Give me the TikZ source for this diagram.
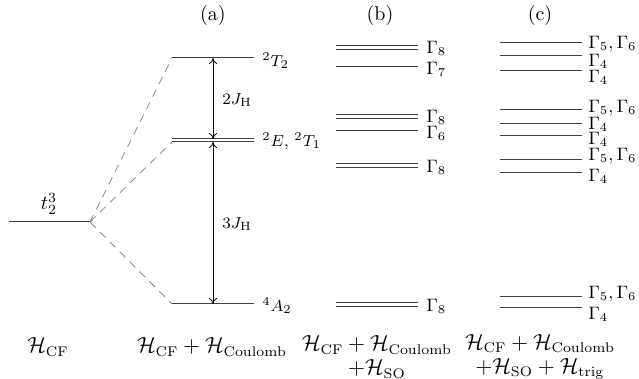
\documentclass[tikz,border=0pt]{standalone}
\usetikzlibrary{arrows.meta}
\begin{document}
\begin{tikzpicture}[x=0.5pt,y=-0.5pt,
  lvl/.style={draw=black!75, line width=0.5pt},
  conn/.style={draw=black!45, dashed, dash pattern=on 4pt off 3pt, line width=0.4pt},
  gap/.style={draw=black, line width=0.4pt, {To[length=3pt,width=4pt]}-{To[length=3pt,width=4pt]}},
  lab/.style={anchor=west, inner sep=0pt, font=\footnotesize},
  glab/.style={anchor=west, inner sep=0pt, font=\small},
  ttl/.style={inner sep=0pt},
  ham/.style={inner sep=0pt, align=center, font=\fontsize{10.5}{12}\selectfont}]
\useasboundingbox (0,0) rectangle (639,379);
% titles
\node[ttl] (ta) at (213,16) {(a)};
\node[ttl] (tb) at (380,16) {(b)};
\node[ttl] (tc) at (540,16) {(c)};
% t2^3
\coordinate (t0) at (9,222);
\coordinate (t1) at (90,222);
\draw[lvl] (t0) -- (t1);
\node[ttl] (tlab) at (49,204) {$t_2^3$};
% (a) levels
\coordinate (a1l) at (172,58);  \coordinate (a1r) at (254,58);
\coordinate (a2l) at (172,139); \coordinate (a2r) at (254,139);
\coordinate (a3l) at (172,142); \coordinate (a3r) at (254,142);
\coordinate (a4l) at (172,304); \coordinate (a4r) at (254,304);
\draw[lvl] (a1l) -- (a1r);
\draw[lvl] (a2l) -- (a2r);
\draw[lvl] (a3l) -- (a3r);
\draw[lvl] (a4l) -- (a4r);
\draw[conn] (t1) -- (a1l);
\draw[conn] (t1) -- (a3l);
\draw[conn] (t1) -- (a4l);
\node[lab] (la1) at (262,61) {$^2T_2$};
\node[lab] (la2) at (262,141) {$^2E$, $^2T_1$};
\node[lab] (la4) at (262,306) {$^4A_2$};
% gaps
\coordinate (g1) at (213,58);
\coordinate (g2) at (213,139);
\coordinate (g3) at (213,142);
\coordinate (g4) at (213,304);
\draw[gap] (g1) -- (g2);
\draw[gap] (g3) -- (g4);
\node[lab] (j2) at (222,100) {$2J_{\mathrm{H}}$};
\node[lab] (j3) at (222,224) {$3J_{\mathrm{H}}$};
% (b) levels
\foreach \y in {46,50,67,115,119,131,164,168,303,307}
  \draw[lvl] (336,\y) -- (418,\y);
\node[glab] (b1) at (426,48) {$\Gamma_8$};
\node[glab] (b2) at (426,69) {$\Gamma_7$};
\node[glab] (b3) at (426,117) {$\Gamma_8$};
\node[glab] (b4) at (426,133) {$\Gamma_6$};
\node[glab] (b5) at (426,167) {$\Gamma_8$};
\node[glab] (b6) at (426,306) {$\Gamma_8$};
% (c) levels
\foreach \y in {43,56,71,110,124,136,160,173,297,308}
  \draw[lvl] (500,\y) -- (582,\y);
\node[glab] (c1) at (588,44) {$\Gamma_5,\Gamma_6$};
\node[glab] (c2) at (588,61) {$\Gamma_4$};
\node[glab] (c3) at (588,77) {$\Gamma_4$};
\node[glab] (c4) at (588,108) {$\Gamma_5,\Gamma_6$};
\node[glab] (c5) at (588,124) {$\Gamma_4$};
\node[glab] (c6) at (588,139) {$\Gamma_4$};
\node[glab] (c7) at (588,156) {$\Gamma_5,\Gamma_6$};
\node[glab] (c8) at (588,176) {$\Gamma_4$};
\node[glab] (c9) at (588,294) {$\Gamma_5,\Gamma_6$};
\node[glab] (c10) at (588,314) {$\Gamma_4$};
% hamiltonians
\node[ham] (h0) at (48,347) {$\mathcal{H}_{\mathrm{CF}}$};
\node[ham] (h1) at (212,347) {$\mathcal{H}_{\mathrm{CF}}+\mathcal{H}_{\mathrm{Coulomb}}$};
\node[ham] (h2) at (377,357) {$\mathcal{H}_{\mathrm{CF}}+\mathcal{H}_{\mathrm{Coulomb}}$\\$+\mathcal{H}_{\mathrm{SO}}$};
\node[ham] (h3) at (540,357) {$\mathcal{H}_{\mathrm{CF}}+\mathcal{H}_{\mathrm{Coulomb}}$\\$+\mathcal{H}_{\mathrm{SO}}+\mathcal{H}_{\mathrm{trig}}$};
\end{tikzpicture}
\end{document}
